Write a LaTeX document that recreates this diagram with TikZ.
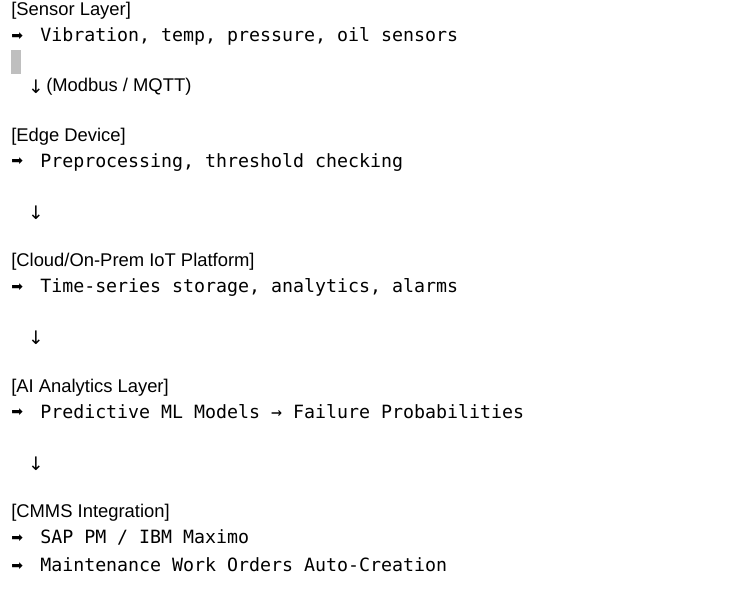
\documentclass[tikz,border=0pt]{standalone}
\usepackage{fontspec}
\setmainfont{Liberation Sans}
\newfontfamily\monofont{DejaVu Sans Mono}
\newfontfamily\symfont{DejaVu Sans}
\begin{document}
\begin{tikzpicture}[x=0.75pt,y=-0.75pt,
  head/.style={anchor=base west,inner sep=0pt,font=\fontsize{13.8pt}{16pt}\selectfont},
  mono/.style={anchor=base west,inner sep=0pt,font=\monofont\fontsize{13.7pt}{16pt}\selectfont},
  bullet/.style={anchor=base west,inner sep=0pt,font=\symfont\fontsize{10.5pt}{12pt}\selectfont},
  down/.style={anchor=base,inner sep=0pt,font=\symfont\fontsize{14pt}{16pt}\selectfont}]
\useasboundingbox (0,0) rectangle (750,605);
\fill[white] (0,0) rectangle (750,605);
% Sensor layer
\node[head] (h1) at (11,16) {[Sensor Layer]};
\node[bullet] (b1) at (11,40.5) {➡};
\node[mono] (m1) at (40,42) {Vibration, temp, pressure, oil sensors};
\fill[black!25] (11,50) rectangle (21,74);
\node[down] (d1) at (36,94) {↓};
\node[head] (l1) at (46,92) {(Modbus / MQTT)};
% Edge device
\node[head] (h2) at (11,141.5) {[Edge Device]};
\node[bullet] (b2) at (11,166) {➡};
\node[mono] (m2) at (40,167.5) {Preprocessing, threshold checking};
\node[down] (d2) at (36,219.5) {↓};
% Cloud
\node[head] (h3) at (11,267) {[Cloud/On-Prem IoT Platform]};
\node[bullet] (b3) at (11,291.5) {➡};
\node[mono] (m3) at (40,293) {Time-series storage, analytics, alarms};
\node[down] (d3) at (36,345) {↓};
% AI
\node[head] (h4) at (11,392.5) {[AI Analytics Layer]};
\node[bullet] (b4) at (11,417) {➡};
\node[mono] (m4) at (40,418.5) {Predictive ML Models → Failure Probabilities};
\node[down] (d4) at (36,470.5) {↓};
% CMMS
\node[head] (h5) at (11,518) {[CMMS Integration]};
\node[bullet] (b5) at (11,542.5) {➡};
\node[mono] (m5) at (40,544) {SAP PM / IBM Maximo};
\node[bullet] (b6) at (11,570.5) {➡};
\node[mono] (m6) at (40,572) {Maintenance Work Orders Auto-Creation};
\end{tikzpicture}
\end{document}
